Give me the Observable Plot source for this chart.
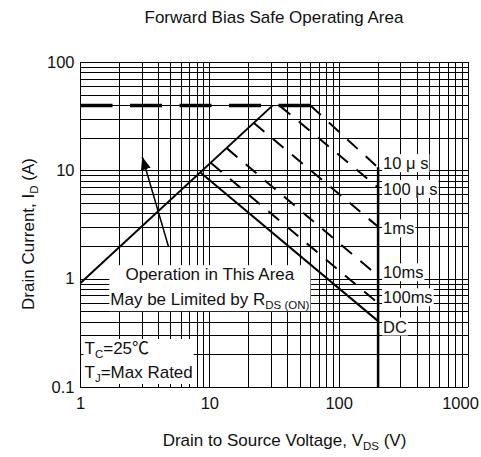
<!DOCTYPE html>
<html>
<head>
<meta charset="utf-8">
<script src="https://cdn.jsdelivr.net/npm/d3@7"></script>
<script src="https://cdn.jsdelivr.net/npm/@observablehq/plot@0.6"></script>
<style>
  html, body { margin: 0; padding: 0; background: #fff; }
  #chart { width: 481px; height: 457px; font-family: "Liberation Sans", Arial, "Noto Sans CJK JP", sans-serif; color: #111; }
  .title { height: 36px; line-height: 36px; font-size: 17px; margin-left: 80px; width: 388px; text-align: center; }
  svg { display: block; }
</style>
</head>
<body>
<div id="chart"><div class="title">Forward Bias Safe Operating Area</div></div>
<script>
// Pulse-width boundaries of the safe operating area (V_DS in V, I_D in A)
const pulseLabels = ["10 μ s", "100 μ s", "1ms", "10ms", "100ms", "DC"];
const startV = [60, 34.6, 21.8, 13.5, 10.2, 8.5];
const startI = [40, 40, 27.8, 16.2, 11.8, 9.6];
const endV = [200, 200, 200, 200, 200, 200];
const endI = [10.7, 7, 3.05, 1.07, 0.6, 0.41];
const labelI = [11.6, 6.7, 2.9, 1.14, 0.67, 0.36];

// Region limited by the on-resistance
const rdsV = [1, 30.5];
const rdsI = [0.92, 40];

// Continuous drain current limit
const limitV = [1, 60];
const limitI = [40, 40];

// Maximum drain-source voltage
const vMax = 200;

// Axis ticks and grid
const xTicks = [1, 10, 100];
const xLastTick = [1000];
const yTicks = [0.1, 1, 10, 100];
const xGrid = [1, 2, 3, 4, 5, 6, 7, 8, 9, 10, 20, 30, 40, 50, 60, 70, 80, 90,
  100, 200, 300, 400, 500, 600, 700, 800, 900, 1000];
const yGrid = [0.1, 0.2, 0.3, 0.4, 0.5, 0.6, 0.7, 0.8, 0.9, 1, 2, 3, 4, 5, 6, 7, 8, 9,
  10, 20, 30, 40, 50, 60, 70, 80, 90, 100];

// Annotations
const areaNote = "Operation in This Area\nMay be Limited by R_{DS (ON)}";
const areaNoteV = 10, areaNoteI = 0.89;
const condNote = "T_{C}=25℃\nT_{J}=Max Rated";
const condNoteV = 1, condNoteI = 0.186;
const pointerFrom = {v: 4.8, i: 1.98};
const pointerTo = {v: 3.0, i: 13.5};
const xLabel = "Drain to Source Voltage, V_{DS} (V)";
const yLabel = "Drain Current, I_{D} (A)";

const pulses = pulseLabels.map((label, k) => ({
  label, v1: startV[k], i1: startI[k], v2: endV[k], i2: endI[k], li: labelI[k]
}));
const dashed = pulses.filter(d => d.label !== "DC");
const solid = pulses.filter(d => d.label === "DC");

const masked = () => "masked-text";

const chart = Plot.plot({
  width: 481,
  height: 421,
  marginTop: 26,
  marginBottom: 70,
  marginLeft: 80,
  marginRight: 13,
  style: {fontFamily: "Liberation Sans, Arial, Noto Sans CJK JP, sans-serif", fontSize: "16.5px", color: "#111", background: "#fff"},
  x: {type: "log", domain: [1, 1000]},
  y: {type: "log", domain: [0.1, 100]},
  marks: [
    Plot.ruleX(xGrid, {stroke: "#000", strokeWidth: 1, shapeRendering: "crispEdges"}),
    Plot.ruleY(yGrid, {stroke: "#000", strokeWidth: 1, shapeRendering: "crispEdges"}),
    Plot.axisX({ticks: xTicks, tickFormat: d => String(d), tickSize: 0, tickPadding: 10, label: null}),
    Plot.axisX({ticks: xLastTick, tickFormat: d => String(d), tickSize: 0, tickPadding: 10, dx: -8, label: null}),
    Plot.axisY({ticks: yTicks, tickFormat: d => String(d), tickSize: 0, tickPadding: 6, label: null}),
    Plot.text([areaNote], {x: areaNoteV, y: areaNoteI, text: d => d, fontSize: 17, lineHeight: 1.47,
      fill: "#111", ariaLabel: masked}),
    Plot.text([condNote], {x: condNoteV, y: condNoteI, text: d => d, fontSize: 17, lineHeight: 1.41,
      textAnchor: "start", dx: 4, fill: "#111", ariaLabel: masked}),
    Plot.text(pulses, {x: "v2", y: "li", text: "label", textAnchor: "start", dx: 5, fontSize: 16.5,
      fill: "#111", ariaLabel: masked}),
    Plot.ruleX([vMax], {y1: 0.1, y2: endI[0], stroke: "#000", strokeWidth: 2.5}),
    Plot.link([{v1: limitV[0], i1: limitI[0], v2: limitV[1], i2: limitI[1]}],
      {x1: "v1", y1: "i1", x2: "v2", y2: "i2", stroke: "#000", strokeWidth: 3.5, strokeDasharray: "32,17.5"}),
    Plot.link([{v1: rdsV[0], i1: rdsI[0], v2: rdsV[1], i2: rdsI[1]}],
      {x1: "v1", y1: "i1", x2: "v2", y2: "i2", stroke: "#000", strokeWidth: 2}),
    Plot.link(dashed, {x1: "v1", y1: "i1", x2: "v2", y2: "i2", stroke: "#000", strokeWidth: 2, strokeDasharray: "14,11"}),
    Plot.link(solid, {x1: "v1", y1: "i1", x2: "v2", y2: "i2", stroke: "#000", strokeWidth: 2}),
    Plot.link([{v1: pointerFrom.v, i1: pointerFrom.i, v2: pointerTo.v, i2: pointerTo.i}],
      {x1: "v1", y1: "i1", x2: "v2", y2: "i2", stroke: "#000", strokeWidth: 1.5, ariaLabel: () => "pointer"}),
    Plot.text([xLabel], {frameAnchor: "bottom", dy: 53, dx: 10, lineAnchor: "middle", textAnchor: "middle",
      text: d => d, fontSize: 17, fill: "#111"}),
    Plot.text([yLabel], {frameAnchor: "left", dx: -52, dy: 9, rotate: -90, lineAnchor: "middle", textAnchor: "middle",
      text: d => d, fontSize: 17, fill: "#111"})
  ]
});

document.getElementById("chart").append(chart);

const NS = "http://www.w3.org/2000/svg";

// Turn "_{...}" into lowered, smaller tspans
chart.querySelectorAll("text").forEach(t => {
  const lines = t.querySelectorAll("tspan").length ? [...t.querySelectorAll("tspan")] : [t];
  lines.forEach(el => {
    const s = el.textContent;
    if (!s.includes("_{")) return;
    el.textContent = "";
    s.split(/_\{([^}]*)\}/).forEach((part, k) => {
      if (!part) return;
      const ts = document.createElementNS(NS, "tspan");
      ts.textContent = part;
      if (k % 2) { ts.setAttribute("font-size", "11.5px"); ts.setAttribute("dy", "4"); }
      else if (k > 0) ts.setAttribute("dy", "-4");
      el.append(ts);
    });
  });
});

// White boxes behind annotation text
chart.querySelectorAll('text[aria-label="masked-text"]').forEach(t => {
  const b = t.getBBox();
  const r = document.createElementNS(NS, "rect");
  r.setAttribute("x", b.x - 1);
  r.setAttribute("y", b.y);
  r.setAttribute("width", b.width + 2);
  r.setAttribute("height", b.height);
  r.setAttribute("fill", "#fff");
  const tr = t.getAttribute("transform");
  if (tr) r.setAttribute("transform", tr);
  t.parentNode.insertBefore(r, t);
});

// Filled arrowhead on the pointer line
const defs = document.createElementNS(NS, "defs");
defs.innerHTML = '<marker id="pointer-head" markerUnits="userSpaceOnUse" markerWidth="13" markerHeight="10" refX="13" refY="5" orient="auto"><path d="M0,0L13,5L0,10Z" fill="#000"/></marker>';
chart.prepend(defs);
chart.querySelectorAll('path[aria-label="pointer"]').forEach(p => p.setAttribute("marker-end", "url(#pointer-head)"));
</script>
</body>
</html>
